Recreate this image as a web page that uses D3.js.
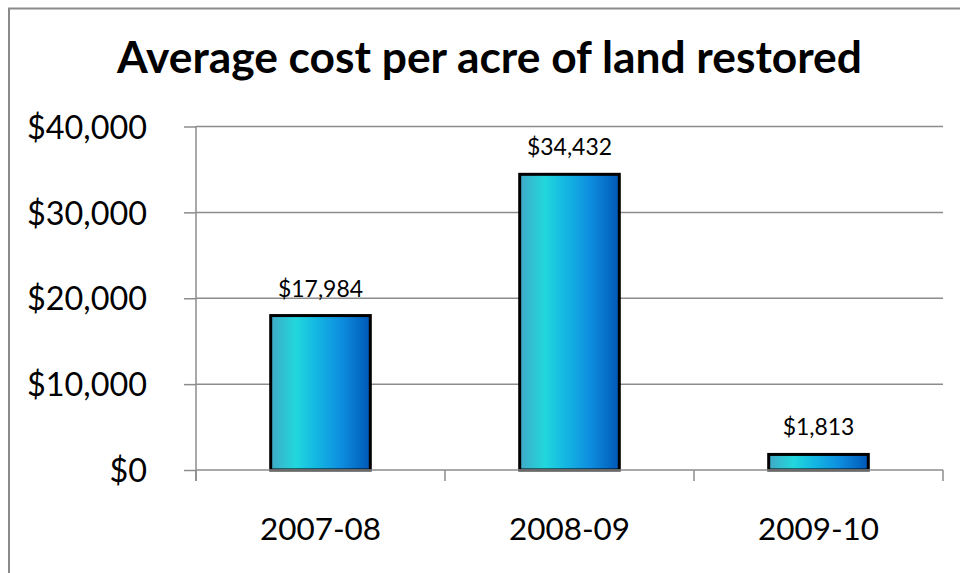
<!DOCTYPE html>
<html>
<head>
<meta charset="utf-8">
<script src="https://cdn.jsdelivr.net/npm/d3@7"></script>
<style>
  html, body { margin: 0; padding: 0; background: #fff; }
  svg { display: block; font-family: "Lato", "Open Sans", sans-serif; }
</style>
</head>
<body>
<svg id="chart" width="960" height="573"></svg>
<script>
// Chart data
const title = "Average cost per acre of land restored";
const categories = ["2007-08", "2008-09", "2009-10"];
const values = [17984, 34432, 1813];
const yTicks = [0, 10000, 20000, 30000, 40000];

const FONT = "Lato, 'Open Sans', sans-serif";
const svg = d3.select("#chart");
const plot = { left: 196, right: 943, top: 126.5, bottom: 470 };

// Scale a text's font size so that it spans the given width
function fitWidth(sel, target) {
  sel.each(function () {
    const fs = parseFloat(d3.select(this).attr("font-size"));
    const w = this.getComputedTextLength();
    if (w > 0) d3.select(this).attr("font-size", (fs * target / w).toFixed(2));
  });
}

// Outer chart frame
svg.append("rect")
  .attr("x", 9).attr("y", 8.5).attr("width", 980).attr("height", 600)
  .attr("fill", "#fff").attr("stroke", "#8a8a8a").attr("stroke-width", 2);

const x = d3.scaleBand().domain(categories).range([plot.left, plot.right]).paddingInner(0.6).paddingOuter(0.3);
const y = d3.scaleLinear().domain([0, 40000]).range([plot.bottom, plot.top]);
const fmt = d3.format("$,");

// Gradient for the bars
const defs = svg.append("defs");
const grad = defs.append("linearGradient").attr("id", "barGrad")
  .attr("x1", "0%").attr("x2", "100%").attr("y1", "0%").attr("y2", "0%");
[["0%", "#41a9c6"], ["25%", "#22d7dd"], ["45%", "#14b8e2"], ["70%", "#0e8fe0"], ["100%", "#0058b6"]]
  .forEach(([o, c]) => grad.append("stop").attr("offset", o).attr("stop-color", c));

// Gridlines
svg.append("g").selectAll("line").data(yTicks.filter(d => d > 0)).join("line")
  .attr("x1", plot.left).attr("x2", plot.right)
  .attr("y1", d => y(d)).attr("y2", d => y(d))
  .attr("stroke", "#8c8c8c").attr("stroke-width", 1.5);

// Y axis
const yAxis = svg.append("g").attr("transform", `translate(${plot.left},0)`)
  .call(d3.axisLeft(y).tickValues(yTicks).tickFormat(fmt).tickSize(12).tickPadding(37))
  .attr("font-family", FONT);
yAxis.select(".domain").attr("stroke", "#8c8c8c").attr("stroke-width", 1.5)
  .attr("d", `M0,${plot.top}V${plot.bottom + 11}`);
yAxis.selectAll(".tick line").attr("stroke", "#8c8c8c").attr("stroke-width", 1.5);
const yLabels = yAxis.selectAll(".tick text").attr("font-size", 28).attr("fill", "#000").attr("dy", "0.36em");
// size tick labels so "$40,000" spans its measured width
{
  const top = yLabels.filter(d => d === 40000).node();
  const k = 120 / top.getComputedTextLength();
  yLabels.attr("font-size", (28 * k).toFixed(2));
}

// Bars
svg.append("g").selectAll("rect").data(values).join("rect")
  .attr("x", (d, i) => x(categories[i]))
  .attr("y", d => y(d))
  .attr("width", x.bandwidth())
  .attr("height", d => y(0) - y(d))
  .attr("fill", "url(#barGrad)")
  .attr("stroke", "#000").attr("stroke-width", 3);

// X axis (baseline with tick marks between categories)
const step = (plot.right - plot.left) / categories.length;
const xg = svg.append("g");
xg.append("line").attr("x1", plot.left).attr("x2", plot.right)
  .attr("y1", y(0)).attr("y2", y(0)).attr("stroke", "#8c8c8c").attr("stroke-width", 1.5);
xg.selectAll("line.tk").data(d3.range(categories.length + 1)).join("line").attr("class", "tk")
  .attr("x1", i => plot.left + i * step).attr("x2", i => plot.left + i * step)
  .attr("y1", y(0)).attr("y2", y(0) + 11)
  .attr("stroke", "#8c8c8c").attr("stroke-width", 1.5);
const xLabels = xg.selectAll("text").data(categories).join("text")
  .attr("x", d => x(d) + x.bandwidth() / 2).attr("y", 540)
  .attr("text-anchor", "middle").attr("font-size", 28).attr("fill", "#000")
  .text(d => d);
fitWidth(xLabels, 121);

// Value labels
const vLabels = svg.append("g").selectAll("text").data(values).join("text")
  .attr("x", (d, i) => x(categories[i]) + x.bandwidth() / 2)
  .attr("y", d => y(d) - 19)
  .attr("text-anchor", "middle").attr("font-size", 19).attr("fill", "#000")
  .text(d => fmt(d));
{
  const n = vLabels.filter(d => d === 34432).node();
  const k = 85 / n.getComputedTextLength();
  vLabels.attr("font-size", (19 * k).toFixed(2));
}

// Title
const t = svg.append("text").attr("x", 489.5).attr("y", 73)
  .attr("text-anchor", "middle").attr("font-size", 38).attr("font-weight", "bold")
  .attr("fill", "#000").text(title);
fitWidth(t, 745);
</script>
</body>
</html>
